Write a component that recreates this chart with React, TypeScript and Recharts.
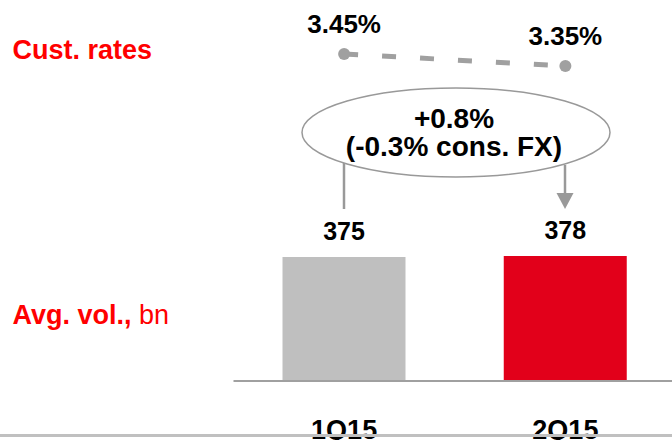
import React from 'react';
import { ComposedChart, Bar, Line, XAxis, YAxis, Cell, LabelList } from 'recharts';

const quarters = ['1Q15', '2Q15'];
const avgVolume = [375, 378];
const custRates = [3.45, 3.35];
const barColors = ['#bfbfbf', '#e2001a'];
const changeLabel = ['+0.8%', '(-0.3% cons. FX)'];

const data = quarters.map((q, i) => ({ q, vol: avgVolume[i], rate: custRates[i] }));

const FONT = '"Liberation Sans", Arial, sans-serif';

const Tick = (props: any) => {
  const { x, y, payload } = props;
  return (
    <text x={x} y={y} dy={50} textAnchor="middle" fontFamily={FONT} fontSize={27} fontWeight="bold" fill="#000">
      {payload.value}
    </text>
  );
};

export default function App() {
  return (
    <div style={{ position: 'absolute', left: 0, top: 0, width: 672, height: 440, overflow: 'hidden', background: '#fff' }}>
      <ComposedChart width={676} height={440} data={data} margin={{ top: 0, right: 0, bottom: 0, left: 233.5 }}>
        <XAxis dataKey="q" height={59} axisLine={{ stroke: '#a0a0a0', strokeWidth: 2 }} tickLine={false} tick={<Tick />} interval={0} />
        <YAxis yAxisId="vol" hide domain={[0, 1152]} />
        <YAxis yAxisId="rate" hide orientation="right" domain={[0.725, 3.9]} allowDataOverflow />
        <Bar yAxisId="vol" dataKey="vol" barSize={123} isAnimationActive={false}>
          {data.map((d, i) => (
            <Cell key={d.q} fill={barColors[i]} />
          ))}
          <LabelList dataKey="vol" position="top" offset={17} fontFamily={FONT} fontSize={25} fontWeight="bold" fill="#000" />
        </Bar>
        <Line
          yAxisId="rate"
          dataKey="rate"
          stroke="#a0a0a0"
          strokeWidth={5}
          strokeDasharray="14 24"
          dot={{ r: 6, fill: '#a0a0a0', stroke: 'none' }}
          activeDot={false}
          isAnimationActive={false}
        >
          <LabelList
            dataKey="rate"
            position="top"
            offset={21}
            formatter={(v: any) => `${Number(v).toFixed(2)}%`}
            fontFamily={FONT}
            fontSize={26}
            fontWeight="bold"
            fill="#000"
          />
        </Line>
      </ComposedChart>
      <svg width={672} height={440} style={{ position: 'absolute', left: 0, top: 0, pointerEvents: 'none' }}>
        <text x={12.5} y={59} fontFamily={FONT} fontSize={27} fontWeight="bold" fill="#ff0000">Cust. rates</text>
        <text x={12.5} y={324} fontFamily={FONT} fontSize={27} fill="#ff0000">
          <tspan fontWeight="bold">Avg. vol.,</tspan>
          <tspan> bn</tspan>
        </text>
        <ellipse cx={456} cy={132.5} rx={154} ry={44.5} fill="none" stroke="#999" strokeWidth={1.5} />
        <text x={454} y={128} textAnchor="middle" fontFamily={FONT} fontSize={28} fontWeight="bold" fill="#000">{changeLabel[0]}</text>
        <text x={454} y={156} textAnchor="middle" fontFamily={FONT} fontSize={28} fontWeight="bold" fill="#000">{changeLabel[1]}</text>
        <line x1={344} y1={163} x2={344} y2={209} stroke="#999" strokeWidth={2.5} />
        <line x1={565} y1={165} x2={565} y2={194} stroke="#999" strokeWidth={2.5} />
        <polygon points="556.5,193 573.5,193 565,209" fill="#999" />
        <rect x={0} y={434} width={672} height={3} fill="#c0c0c0" />
      </svg>
    </div>
  );
}
